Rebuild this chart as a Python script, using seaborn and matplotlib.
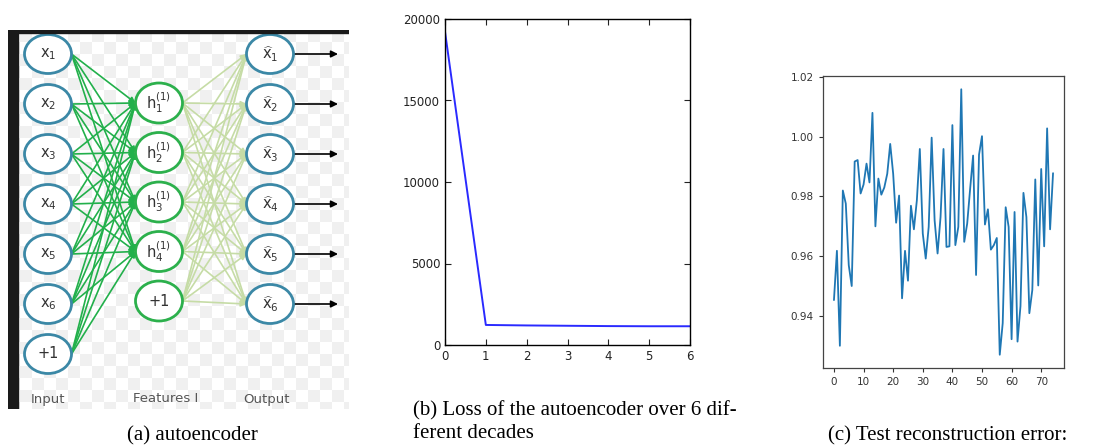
import numpy as np
import pandas as pd
import seaborn as sns
import matplotlib.pyplot as plt
from matplotlib.patches import Ellipse, Rectangle
from matplotlib.colors import ListedColormap

# (a) autoencoder diagram labels
input_labels = [r"$\mathrm{x}_1$", r"$\mathrm{x}_2$", r"$\mathrm{x}_3$", r"$\mathrm{x}_4$",
                r"$\mathrm{x}_5$", r"$\mathrm{x}_6$", "+1"]
hidden_labels = [r"$\mathrm{h}_1^{(1)}$", r"$\mathrm{h}_2^{(1)}$", r"$\mathrm{h}_3^{(1)}$",
                 r"$\mathrm{h}_4^{(1)}$", "+1"]
output_labels = [r"$\widehat{\mathrm{x}}_1$", r"$\widehat{\mathrm{x}}_2$", r"$\widehat{\mathrm{x}}_3$",
                 r"$\widehat{\mathrm{x}}_4$", r"$\widehat{\mathrm{x}}_5$", r"$\widehat{\mathrm{x}}_6$"]
layer_names = ["Input", "Features I", "Output"]

# (b) loss per decade
epochs = [0, 1, 2, 3, 4, 5, 6]
loss = [19220, 1230, 1200, 1180, 1160, 1150, 1150]

# (c) test reconstruction error
error = [0.9453, 0.9618, 0.9300, 0.9820, 0.9776, 0.9570, 0.9500, 0.9917, 0.9922, 0.9810,
         0.9840, 0.9910, 0.9847, 1.0080, 0.9700, 0.9860, 0.9806, 0.9830, 0.9876, 0.9976,
         0.9876, 0.9712, 0.9803, 0.9459, 0.9618, 0.9518, 0.9769, 0.9690, 0.9787, 0.9959,
         0.9676, 0.9592, 0.9698, 0.9997, 0.9720, 0.9609, 0.9731, 0.9959, 0.9631, 0.9633,
         1.0039, 0.9637, 0.9698, 1.0159, 0.9648, 0.9709, 0.9826, 0.9937, 0.9537, 0.9940,
         1.0002, 0.9706, 0.9757, 0.9622, 0.9637, 0.9661, 0.9270, 0.9376, 0.9764, 0.9698,
         0.9322, 0.9748, 0.9314, 0.9433, 0.9812, 0.9731, 0.9409, 0.9487, 0.9857, 0.9502,
         0.9892, 0.9633, 1.0028, 0.9690, 0.9878]

sns.set_style("ticks")
plt.rcParams['font.family'] = ['DejaVu Sans']

W, H = 1105, 447
fig = plt.figure(figsize=(W / 100, H / 100), dpi=100)


def box(x0, y0, x1, y1):
    return [x0 / W, 1 - y1 / H, (x1 - x0) / W, (y1 - y0) / H]


# ---------- (a) diagram ----------
ax = fig.add_axes(box(8, 30, 349, 409))
pw, ph = 341, 379
ax.axis('off')

sq = 12
board = np.add.outer(np.arange(ph // sq + 1), np.arange(pw // sq + 1)) % 2
ax.imshow(board, cmap=ListedColormap(['white', '#f0f0f0']), extent=(0, (pw // sq + 1) * sq, (ph // sq + 1) * sq, 0),
          interpolation='nearest', zorder=0, aspect='auto')
ax.set_xlim(0, pw)
ax.set_ylim(ph, 0)
ax.add_patch(Rectangle((0, 0), 10, ph, color='#1a1a1a', zorder=5))
ax.add_patch(Rectangle((0, 0), pw, 3, color='#1a1a1a', zorder=5))

col_x = [40, 151, 262]
ew, eh = 47, 39
in_y = [24 + 50 * i for i in range(len(input_labels))]
hid_y = [73 + 49.5 * i for i in range(len(hidden_labels))]
out_y = [24 + 50 * i for i in range(len(output_labels))]

blue_edge = '#3b88a6'
green_edge = '#2cb04c'
green_line = '#22b04b'
light_line = '#c6dca6'


def arrow(x0, y0, x1, y1, color, lw=1.2, ms=8):
    ax.annotate("", xy=(x1, y1), xytext=(x0, y0),
                arrowprops=dict(arrowstyle='-|>', color=color, lw=lw, mutation_scale=ms,
                                shrinkA=0, shrinkB=0), zorder=2)


for sy in in_y:
    for ty in hid_y[:-1]:
        arrow(col_x[0] + ew / 2, sy, col_x[1] - ew / 2, ty, green_line)
for sy in hid_y:
    for ty in out_y:
        arrow(col_x[1] + ew / 2, sy, col_x[2] - ew / 2, ty, light_line)
for ty in out_y:
    arrow(col_x[2] + ew / 2, ty, 330, ty, 'black', lw=1.2, ms=10)


def nodes(cx, ys, labels, edge, h):
    for y, lab in zip(ys, labels):
        ax.add_patch(Ellipse((cx, y), ew, h, facecolor='white', edgecolor=edge, lw=2, zorder=3))
        ax.text(cx, y, lab, ha='center', va='center', fontsize=10.5, color='#333333', zorder=4)


nodes(col_x[0], in_y, input_labels, blue_edge, eh)
nodes(col_x[1], hid_y, hidden_labels, green_edge, 40)
nodes(col_x[2], out_y, output_labels, blue_edge, eh)

for cx, name in zip([40, 158, 259], layer_names):
    ax.text(cx, 369, name, ha='center', va='center', fontsize=9.5, color='#555555')

# ---------- (b) loss ----------
axb = fig.add_axes(box(445, 19, 690, 345))
df_loss = pd.DataFrame({'epoch': epochs, 'loss': loss})
sns.lineplot(data=df_loss, x='epoch', y='loss', ax=axb, color='#2a2aff', lw=1.4)
axb.set_xlim(0, 6)
axb.set_ylim(0, 20000)
axb.set_xticks(range(0, 7))
axb.set_yticks(range(0, 20001, 5000))
axb.set_xlabel('')
axb.set_ylabel('')
axb.tick_params(direction='in', top=True, right=True, length=4, labelsize=8.5, colors='#222222')
for s in axb.spines.values():
    s.set_color('black')
    s.set_linewidth(1)

# ---------- (c) reconstruction error ----------
axc = fig.add_axes(box(823, 76, 1064, 368))
df_err = pd.DataFrame({'sample': np.arange(len(error)), 'error': error})
sns.lineplot(data=df_err, x='sample', y='error', ax=axc, color='#1f77b4', lw=1.3)
axc.set_xticks(range(0, 71, 10))
axc.set_yticks([0.94, 0.96, 0.98, 1.00, 1.02])
axc.set_xlabel('')
axc.set_ylabel('')
axc.tick_params(labelsize=7.5, length=3, colors='#333333')
for s in axc.spines.values():
    s.set_color('#444444')
    s.set_linewidth(0.9)

# ---------- captions ----------
cap = dict(family=['Liberation Serif', 'DejaVu Serif'], fontsize=15, color='black', va='center')
fig.text(192 / W, 1 - 436 / H, '(a) autoencoder', ha='center', **cap)
fig.text(413 / W, 1 - 411 / H, '(b) Loss of the autoencoder over 6 dif-', ha='left', **cap)
fig.text(413 / W, 1 - 434 / H, 'ferent decades', ha='left', **cap)
fig.text(828 / W, 1 - 436 / H, '(c) Test reconstruction error:', ha='left', **cap)

fig.savefig('out.png', dpi=100)
